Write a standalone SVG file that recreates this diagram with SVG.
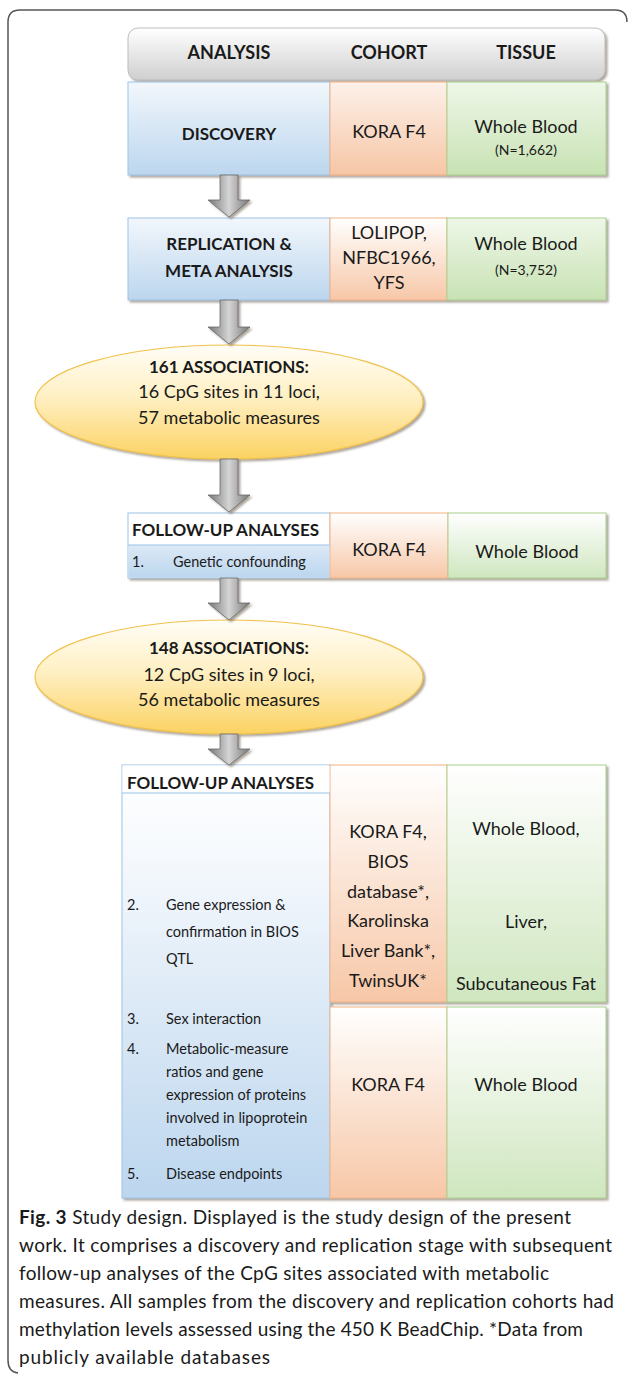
<svg xmlns="http://www.w3.org/2000/svg" width="629" height="1374" viewBox="0 0 629 1374">
<defs>
<linearGradient id="gHead" x1="0" y1="0" x2="0" y2="1"><stop offset="0" stop-color="#ffffff"/><stop offset="1" stop-color="#cfcfcf"/></linearGradient>
<linearGradient id="gBlue" x1="0" y1="0" x2="0" y2="1"><stop offset="0" stop-color="#f2f7fc"/><stop offset="1" stop-color="#bcd6ee"/></linearGradient>
<linearGradient id="gBlueL" x1="0" y1="0" x2="0" y2="1"><stop offset="0" stop-color="#dce9f6"/><stop offset="1" stop-color="#bcd6ee"/></linearGradient>
<linearGradient id="gBlueBig" x1="0" y1="0" x2="0" y2="1"><stop offset="0" stop-color="#ffffff"/><stop offset="0.2" stop-color="#f6f9fd"/><stop offset="1" stop-color="#bcd6ee"/></linearGradient>
<linearGradient id="gOrange" x1="0" y1="0" x2="0" y2="1"><stop offset="0" stop-color="#fdf1ea"/><stop offset="1" stop-color="#f6c6a5"/></linearGradient>
<linearGradient id="gOrangeW" x1="0" y1="0" x2="0" y2="1"><stop offset="0" stop-color="#ffffff"/><stop offset="1" stop-color="#f7c7a7"/></linearGradient>
<linearGradient id="gGreen" x1="0" y1="0" x2="0" y2="1"><stop offset="0" stop-color="#eef7e8"/><stop offset="1" stop-color="#c8e2b4"/></linearGradient>
<linearGradient id="gGreenW" x1="0" y1="0" x2="0" y2="1"><stop offset="0" stop-color="#ffffff"/><stop offset="1" stop-color="#cfe6bf"/></linearGradient>
<linearGradient id="gYellow" x1="0" y1="0" x2="0" y2="1"><stop offset="0" stop-color="#fffdf6"/><stop offset="0.45" stop-color="#fff0c4"/><stop offset="1" stop-color="#fbd262"/></linearGradient>
<linearGradient id="gArrow" x1="0" y1="0" x2="1" y2="0"><stop offset="0" stop-color="#767676"/><stop offset="0.5" stop-color="#d4d4d4"/><stop offset="1" stop-color="#767676"/></linearGradient>
<filter id="sh" x="-5%" y="-5%" width="115%" height="120%"><feDropShadow dx="2" dy="2" stdDeviation="0.8" flood-color="#6b5a4a" flood-opacity="0.55"/></filter>
<style>
.t{font-family:Lato,"Open Sans","Liberation Sans",sans-serif;fill:#1a1a1a}
.b{font-weight:bold}
.m{text-anchor:middle}
.h{font-size:18px}
.r{font-size:17px}
.rb{font-size:17px}
.s{font-size:14px}
.i{font-size:14.5px}
.cap{font-size:19px}
.bl{stroke:#9dc3e6;stroke-width:1}
.or{stroke:#f4b183;stroke-width:1}
.gr{stroke:#a9d18e;stroke-width:1}
.el{stroke:#f0c24d;stroke-width:1.2;fill:url(#gYellow)}
.ar{fill:url(#gArrow);stroke:#6a6a6a;stroke-width:0.8}
</style>
</defs>
<rect width="629" height="1374" fill="#ffffff"/>
<g id="frame"><path d="M627,22 Q627,10 615,10 L20,10 Q8,10 8,22 L8,1360 Q8,1372 18,1373" fill="none" stroke="#555" stroke-width="1.5"/></g>

<g id="header">
<rect x="128" y="28" width="477" height="52" rx="10" fill="url(#gHead)" stroke="#bdbdbd" filter="url(#sh)"/>
<text class="t b m h" x="229" y="59">ANALYSIS</text>
<text class="t b m h" x="389" y="59">COHORT</text>
<text class="t b m h" x="526" y="59">TISSUE</text>
</g>

<g id="row-discovery">
<g filter="url(#sh)">
<rect x="128" y="82" width="202" height="93" fill="url(#gBlue)" class="bl"/>
<rect x="330" y="82" width="117" height="93" fill="url(#gOrange)" class="or"/>
<rect x="447" y="82" width="159" height="93" fill="url(#gGreen)" class="gr"/>
</g>
<text class="t b m rb" x="229" y="140">DISCOVERY</text>
<text class="t m h" x="389" y="138">KORA F4</text>
<text class="t m h" x="526" y="133">Whole Blood</text>
<text class="t m s" x="526" y="155">(N=1,662)</text>
</g>

<g id="row-replication">
<g filter="url(#sh)">
<rect x="128" y="218" width="202" height="82" fill="url(#gBlue)" class="bl"/>
<rect x="330" y="218" width="117" height="82" fill="url(#gOrangeW)" class="or"/>
<rect x="447" y="218" width="159" height="82" fill="url(#gGreen)" class="gr"/>
</g>
<text class="t b m rb" x="229" y="250">REPLICATION &amp;</text>
<text class="t b m rb" x="229" y="277">META ANALYSIS</text>
<text class="t m h" x="389" y="239">LOLIPOP,</text>
<text class="t m h" x="389" y="264">NFBC1966,</text>
<text class="t m h" x="389" y="289">YFS</text>
<text class="t m h" x="526" y="250">Whole Blood</text>
<text class="t m s" x="526" y="275">(N=3,752)</text>
</g>

<g id="ellipse-161">
<ellipse cx="229" cy="402" rx="194" ry="57" class="el" filter="url(#sh)"/>
<text class="t b m rb" x="229" y="373">161 ASSOCIATIONS:</text>
<text class="t m h" x="229" y="398">16 CpG sites in 11 loci,</text>
<text class="t m h" x="229" y="424">57 metabolic measures</text>
</g>

<g id="row-followup1">
<g filter="url(#sh)">
<rect x="128" y="513" width="202" height="65" fill="#ffffff" class="bl"/>
<rect x="330" y="513" width="118" height="65" fill="url(#gOrangeW)" class="or"/>
<rect x="448" y="513" width="158" height="65" fill="url(#gGreenW)" class="gr"/>
</g>
<rect x="128.5" y="545" width="201" height="32.5" fill="url(#gBlueL)"/>
<line x1="128" y1="545" x2="330" y2="545" class="bl"/>
<text class="t b r" x="132" y="536">FOLLOW-UP ANALYSES</text>
<text class="t i" x="132" y="567">1.</text>
<text class="t i" x="173" y="567">Genetic confounding</text>
<text class="t m h" x="389" y="556">KORA F4</text>
<text class="t m h" x="527" y="558">Whole Blood</text>
</g>

<g id="ellipse-148">
<ellipse cx="229" cy="677" rx="194" ry="57" class="el" filter="url(#sh)"/>
<text class="t b m rb" x="229" y="654">148 ASSOCIATIONS:</text>
<text class="t m h" x="229" y="681">12 CpG sites in 9 loci,</text>
<text class="t m h" x="229" y="706">56 metabolic measures</text>
</g>

<g id="block-followup">
<g filter="url(#sh)">
<rect x="122" y="765" width="208" height="433" fill="url(#gBlueBig)" class="bl"/>
<rect x="330" y="765" width="117" height="237" fill="url(#gOrangeW)" class="or"/>
<rect x="447" y="765" width="159" height="237" fill="url(#gGreenW)" class="gr"/>
<rect x="330" y="1007" width="117" height="191" fill="url(#gOrangeW)" class="or"/>
<rect x="447" y="1007" width="159" height="191" fill="url(#gGreenW)" class="gr"/>
</g>
<rect x="122.5" y="765.5" width="207" height="27.5" fill="#ffffff"/>
<line x1="122" y1="793" x2="330" y2="793" class="bl"/>
<text class="t b r" x="127" y="789">FOLLOW-UP ANALYSES</text>
<text class="t i" x="127" y="910">2.</text>
<text class="t i" x="166" y="910">Gene expression &amp;</text>
<text class="t i" x="166" y="937">confirmation in BIOS</text>
<text class="t i" x="166" y="964">QTL</text>
<text class="t i" x="127" y="1024">3.</text>
<text class="t i" x="166" y="1024">Sex interaction</text>
<text class="t i" x="127" y="1054">4.</text>
<text class="t i" x="166" y="1054">Metabolic-measure</text>
<text class="t i" x="166" y="1077">ratios and gene</text>
<text class="t i" x="166" y="1100">expression of proteins</text>
<text class="t i" x="166" y="1123">involved in lipoprotein</text>
<text class="t i" x="166" y="1146">metabolism</text>
<text class="t i" x="127" y="1179">5.</text>
<text class="t i" x="166" y="1179">Disease endpoints</text>
<text class="t m h" x="388" y="838">KORA F4,</text>
<text class="t m h" x="388" y="868">BIOS</text>
<text class="t m h" x="388" y="898">database*,</text>
<text class="t m h" x="388" y="927">Karolinska</text>
<text class="t m h" x="388" y="957">Liver Bank*,</text>
<text class="t m h" x="388" y="987">TwinsUK*</text>
<text class="t m h" x="526" y="835">Whole Blood,</text>
<text class="t m h" x="526" y="928">Liver,</text>
<text class="t m h" x="526" y="990">Subcutaneous Fat</text>
<text class="t m h" x="388" y="1091">KORA F4</text>
<text class="t m h" x="526" y="1091">Whole Blood</text>
</g>

<g id="connectors" filter="url(#sh)">
<path class="ar" d="M220,175 L238,175 L238,200 L250,200 L229,217 L208,200 L220,200 Z"/>
<path class="ar" d="M220,300 L238,300 L238,327 L250,327 L229,344 L208,327 L220,327 Z"/>
<path class="ar" d="M220,459 L238,459 L238,495 L250,495 L229,512 L208,495 L220,495 Z"/>
<path class="ar" d="M220,578 L238,578 L238,603 L250,603 L229,620 L208,603 L220,603 Z"/>
<path class="ar" d="M220,734 L238,734 L238,749 L250,749 L229,765 L208,749 L220,749 Z"/>
</g>

<g id="caption">
<text class="t cap" x="19" y="1224" textLength="552"><tspan font-weight="bold">Fig. 3</tspan>  Study design. Displayed is the study design of the present</text>
<text class="t cap" x="19" y="1252" textLength="593">work. It comprises a discovery and replication stage with subsequent</text>
<text class="t cap" x="19" y="1280" textLength="530">follow-up analyses of the CpG sites associated with metabolic</text>
<text class="t cap" x="19" y="1308" textLength="595">measures. All samples from the discovery and replication cohorts had</text>
<text class="t cap" x="19" y="1336" textLength="564">methylation levels assessed using the 450 K BeadChip. *Data from</text>
<text class="t cap" x="19" y="1364" textLength="251">publicly available databases</text>
</g>
</svg>
